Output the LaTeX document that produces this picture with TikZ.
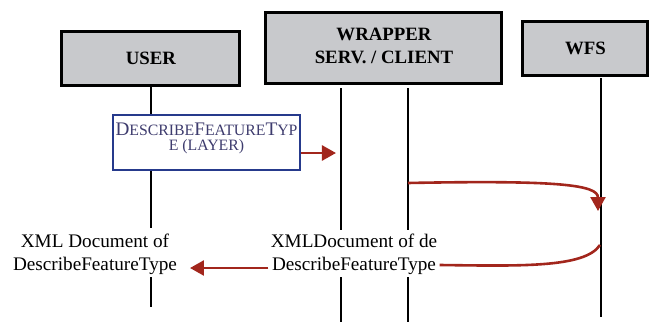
\documentclass[tikz,border=0pt]{standalone}
\usepackage{fontspec}
\setmainfont{Liberation Serif}
\usetikzlibrary{arrows.meta,
                positioning}
\definecolor{msgred}{RGB}{162,38,28}
\definecolor{boxgray}{RGB}{200,201,204}
\definecolor{reqblue}{RGB}{38,58,140}
\definecolor{reqtext}{RGB}{62,60,110}
\newcommand{\lowcaps}[1]{{\fontsize{7.9}{9}\selectfont #1}}

\begin{document}
\begin{tikzpicture}[x=0.5pt, y=-0.5pt,
            actor/.style = {draw, line width=1.5pt, fill=boxgray, align=center,
                    font=\fontsize{9.4}{10}\selectfont\bfseries, inner sep=1pt},
            life/.style = {line width=0.7pt},
            request/.style = {draw=reqblue, line width=1.4pt, fill=white, align=center,
                    text=reqtext, font=\fontsize{9.6}{11}\selectfont,
                    minimum width=93.5pt, minimum height=27.5pt, inner sep=1pt},
            reply/.style = {align=center, inner sep=1pt,
                    font=\fontsize{9.6}{11.5}\selectfont},
            msg/.style = {draw=msgred, line width=1.3pt,
                    -{Triangle[length=7pt, width=7.5pt]}}]

        \useasboundingbox (0,0) rectangle (650,322);

        % actors
        \node [actor, minimum width=89pt, minimum height=27pt]
            (user) at (151,58)   {\raisebox{-1pt}{USER}};
        \node [actor, minimum width=118pt, minimum height=35.5pt]
            (wrap) at (384,47.5)
            {\raisebox{-4pt}{\begin{tabular}{@{}c@{}}WRAPPER\\[1.5pt]SERV. / CLIENT\end{tabular}}};
        \node [actor, minimum width=62.5pt, minimum height=27pt]
            (wfs)  at (585.5,48) {\raisebox{-1pt}{WFS}};

        % messages
        \node [request] (req) at (206.5,142.5)
            {D\lowcaps{ESCRIBE}F\lowcaps{EATURE}T\lowcaps{YP}\\[-3.5pt]%
             \lowcaps{E (LAYER)}\\[-5pt]\mbox{}};
        \node [reply] (xmlwrap) at (354,254) {XMLDocument of de\\DescribeFeatureType};
        \node [reply] (xmluser) at (95,254)  {XML Document of\\DescribeFeatureType};

        % lifeline ends
        \coordinate (u-1) at (151,228);
        \coordinate (u-2) at (151,277);
        \coordinate (u-3) at (151,307);
        \coordinate (wa-0) at (341,88);
        \coordinate (wa-1) at (341,230);
        \coordinate (wa-2) at (341,277);
        \coordinate (wa-3) at (341,322);
        \coordinate (wb-0) at (408,88);
        \coordinate (wb-1) at (408,230);
        \coordinate (wb-2) at (408,277);
        \coordinate (wb-3) at (408,322);
        \coordinate (f-0) at (601,78);
        \coordinate (f-1) at (601,317);

        %% lifelines
        \draw [life] (user.south) -- (req.north -| user.south);
        \draw [life] (req.south -| user.south) -- (u-1);
        \draw [life] (u-2) -- (u-3);
        \draw [life] (wa-0) -- (wa-1) (wa-2) -- (wa-3);
        \draw [life] (wb-0) -- (wb-1) (wb-2) -- (wb-3);
        \draw [life] (f-0) -- (f-1);

        %% calls
        \coordinate (in-w) at (336,153);
        \coordinate (out-w) at (408,183);
        \coordinate (in-f) at (598,211);
        \coordinate (out-f) at (600,245);
        \coordinate (in-u) at (190,268);
        \draw [msg] (req.east |- in-w) -- (in-w);
        \draw [msg] (out-w) .. controls (560,180) and (598,185) .. (in-f);
        \draw [msg, -] (out-f) .. controls (585,268) and (520,266) .. (xmlwrap.east |- 0,265);
        \draw [msg] (xmlwrap.west |- in-u) -- (in-u);
    \end{tikzpicture}
\end{document}
